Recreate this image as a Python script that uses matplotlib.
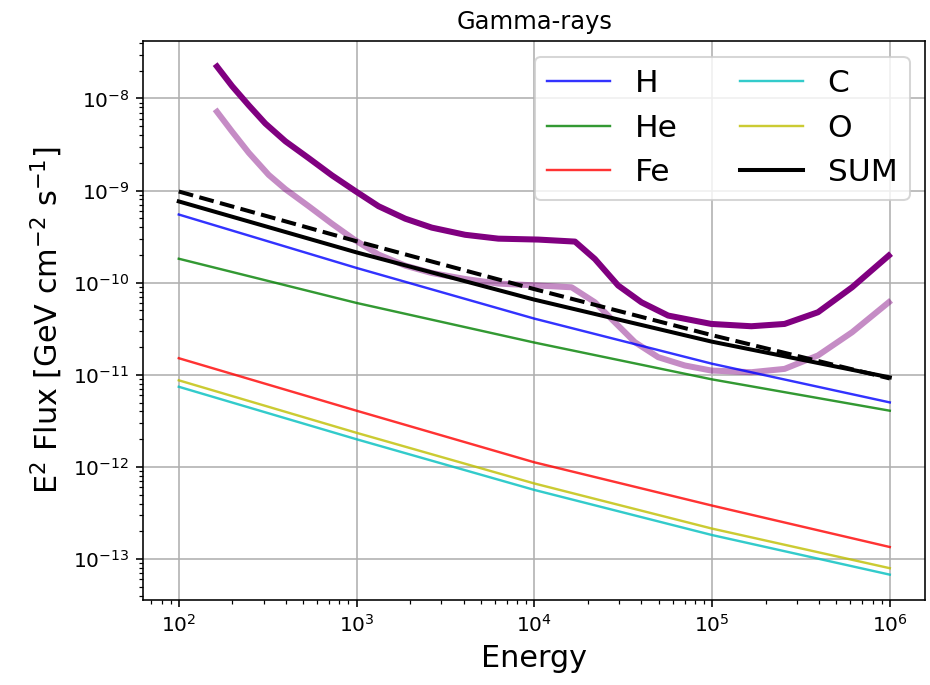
import numpy as np
import matplotlib
matplotlib.use("Agg")
import matplotlib.pyplot as plt
from matplotlib.ticker import NullFormatter

energy = np.array([1e2, 1e3, 1e4, 1e5, 1e6])

# log10 of E^2 flux for each species
log_H = np.array([-9.26, -9.84, -10.39, -10.88, -11.30])
log_He = np.array([-9.74, -10.22, -10.65, -11.05, -11.39])
log_Fe = np.array([-10.82, -11.39, -11.95, -12.42, -12.87])
log_C = np.array([-11.13, -11.70, -12.25, -12.74, -13.17])
log_O = np.array([-11.06, -11.63, -12.18, -12.67, -13.10])

# dashed reference curve
log_ref = np.array([-9.01, -9.55, -10.07, -10.57, -11.04])

# sensitivity curves (log10 E, log10 flux)
dark_logE = np.array([2.215, 2.30, 2.394, 2.487, 2.60, 2.731, 2.862, 2.993, 3.124,
                      3.274, 3.423, 3.611, 3.798, 4.022, 4.229, 4.341, 4.472, 4.603,
                      4.753, 4.996, 5.221, 5.408, 5.596, 5.788, 5.994])
dark_logF = np.array([-7.653, -7.866, -8.075, -8.272, -8.465, -8.648, -8.835, -9.005, -9.170,
                      -9.305, -9.402, -9.480, -9.522, -9.532, -9.554, -9.743, -10.031, -10.213,
                      -10.357, -10.448, -10.473, -10.448, -10.321, -10.05, -9.706])
light_logE = np.array([2.215, 2.30, 2.394, 2.506, 2.60, 2.731, 2.862, 2.993, 3.124,
                       3.274, 3.423, 3.611, 3.798, 4.022, 4.21, 4.341, 4.453, 4.566,
                       4.697, 4.847, 4.996, 5.221, 5.408, 5.596, 5.788, 5.994])
light_logF = np.array([-8.144, -8.36, -8.59, -8.830, -8.985, -9.170, -9.360, -9.540, -9.695,
                       -9.815, -9.895, -9.96, -10.010, -10.031, -10.05, -10.213, -10.43, -10.646,
                       -10.809, -10.899, -10.954, -10.972, -10.936, -10.79, -10.538, -10.213])

species = ["H", "He", "Fe", "C", "O"]
colors = ["b", "g", "r", "c", "y"]
fluxes = [10**log_H, 10**log_He, 10**log_Fe, 10**log_C, 10**log_O]
total = np.sum(fluxes, axis=0)

fig = plt.figure(figsize=(930 / 145, 685 / 145), dpi=145)
ax = fig.add_axes([0.154, 0.124, 0.841, 0.816])

ax.plot(10**dark_logE, 10**dark_logF, color="purple", lw=3)
ax.plot(10**light_logE, 10**light_logF, color="purple", lw=3, alpha=0.45)

lines = []
for name, col, fl in zip(species, colors, fluxes):
    l, = ax.plot(energy, fl, color=col, lw=1.2, alpha=0.8, label=name)
    lines.append(l)

ax.plot(energy, 10**log_ref, color="k", lw=2, ls="--")
l, = ax.plot(energy, total, color="k", lw=2, label="SUM")
lines.append(l)

ax.set_xscale("log")
ax.set_yscale("log")
ax.xaxis.set_minor_formatter(NullFormatter())
ax.yaxis.set_minor_formatter(NullFormatter())
ax.grid(True)

ax.set_xlabel("Energy", fontsize=15)
ax.set_ylabel(r"E$^2$ Flux [GeV cm$^{-2}$ s$^{-1}$]", fontsize=15)
ax.set_title("Gamma-rays")
ax.legend(handles=lines, ncol=2, fontsize=15.5, loc="upper right")

fig.savefig("out.png", dpi=145)
